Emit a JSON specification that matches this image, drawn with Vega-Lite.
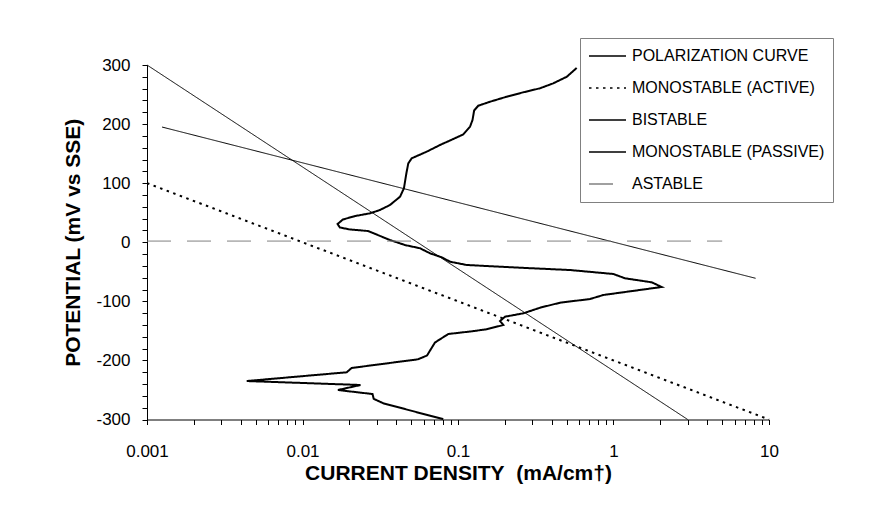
{
  "$schema": "https://vega.github.io/schema/vega-lite/v6.json",
  "width": 622,
  "height": 354.5,
  "autosize": {"type": "none"},
  "padding": {"left": 147, "top": 65, "right": 107, "bottom": 97.5},
  "background": "white",
  "config": {
    "view": {"stroke": null},
    "font": "Liberation Sans",
    "axis": {"grid": false, "domainColor": "#000", "domainWidth": 1, "tickColor": "#000", "tickWidth": 1, "labelColor": "#000", "titleColor": "#000", "labelFont": "Liberation Sans", "titleFont": "Liberation Sans"}
  },
  "data": {
    "values": [
      {"series": "POLARIZATION CURVE", "seq": 1, "i": 0.58, "E": 295},
      {"series": "POLARIZATION CURVE", "seq": 2, "i": 0.5, "E": 280},
      {"series": "POLARIZATION CURVE", "seq": 3, "i": 0.41, "E": 269},
      {"series": "POLARIZATION CURVE", "seq": 4, "i": 0.337, "E": 260.6},
      {"series": "POLARIZATION CURVE", "seq": 5, "i": 0.263, "E": 253.8},
      {"series": "POLARIZATION CURVE", "seq": 6, "i": 0.206, "E": 246.4},
      {"series": "POLARIZATION CURVE", "seq": 7, "i": 0.161, "E": 237.9},
      {"series": "POLARIZATION CURVE", "seq": 8, "i": 0.135, "E": 231.1},
      {"series": "POLARIZATION CURVE", "seq": 9, "i": 0.127, "E": 223},
      {"series": "POLARIZATION CURVE", "seq": 10, "i": 0.124, "E": 207},
      {"series": "POLARIZATION CURVE", "seq": 11, "i": 0.1195, "E": 195.6},
      {"series": "POLARIZATION CURVE", "seq": 12, "i": 0.108, "E": 182.4},
      {"series": "POLARIZATION CURVE", "seq": 13, "i": 0.0933, "E": 174.8},
      {"series": "POLARIZATION CURVE", "seq": 14, "i": 0.0766, "E": 164.6},
      {"series": "POLARIZATION CURVE", "seq": 15, "i": 0.0629, "E": 153.3},
      {"series": "POLARIZATION CURVE", "seq": 16, "i": 0.0504, "E": 142.1},
      {"series": "POLARIZATION CURVE", "seq": 17, "i": 0.0479, "E": 133.6},
      {"series": "POLARIZATION CURVE", "seq": 18, "i": 0.0466, "E": 117.2},
      {"series": "POLARIZATION CURVE", "seq": 19, "i": 0.0449, "E": 91.3},
      {"series": "POLARIZATION CURVE", "seq": 20, "i": 0.0424, "E": 77.1},
      {"series": "POLARIZATION CURVE", "seq": 21, "i": 0.0365, "E": 63},
      {"series": "POLARIZATION CURVE", "seq": 22, "i": 0.0315, "E": 54.6},
      {"series": "POLARIZATION CURVE", "seq": 23, "i": 0.0272, "E": 49},
      {"series": "POLARIZATION CURVE", "seq": 24, "i": 0.0218, "E": 44.4},
      {"series": "POLARIZATION CURVE", "seq": 25, "i": 0.0182, "E": 38.5},
      {"series": "POLARIZATION CURVE", "seq": 26, "i": 0.0168, "E": 30.9},
      {"series": "POLARIZATION CURVE", "seq": 27, "i": 0.0174, "E": 25},
      {"series": "POLARIZATION CURVE", "seq": 28, "i": 0.0202, "E": 21.6},
      {"series": "POLARIZATION CURVE", "seq": 29, "i": 0.0264, "E": 19},
      {"series": "POLARIZATION CURVE", "seq": 30, "i": 0.0365, "E": 3.8},
      {"series": "POLARIZATION CURVE", "seq": 31, "i": 0.0456, "E": -4.7},
      {"series": "POLARIZATION CURVE", "seq": 32, "i": 0.057, "E": -10.2},
      {"series": "POLARIZATION CURVE", "seq": 33, "i": 0.0661, "E": -18.7},
      {"series": "POLARIZATION CURVE", "seq": 34, "i": 0.0786, "E": -25.5},
      {"series": "POLARIZATION CURVE", "seq": 35, "i": 0.0888, "E": -32.9},
      {"series": "POLARIZATION CURVE", "seq": 36, "i": 0.1138, "E": -38.5},
      {"series": "POLARIZATION CURVE", "seq": 37, "i": 0.1606, "E": -40.5},
      {"series": "POLARIZATION CURVE", "seq": 38, "i": 0.25, "E": -43.1},
      {"series": "POLARIZATION CURVE", "seq": 39, "i": 0.525, "E": -47},
      {"series": "POLARIZATION CURVE", "seq": 40, "i": 0.997, "E": -53.7},
      {"series": "POLARIZATION CURVE", "seq": 41, "i": 1.186, "E": -61},
      {"series": "POLARIZATION CURVE", "seq": 42, "i": 1.761, "E": -67.8},
      {"series": "POLARIZATION CURVE", "seq": 43, "i": 2.042, "E": -75.7},
      {"series": "POLARIZATION CURVE", "seq": 44, "i": 0.86, "E": -89.3},
      {"series": "POLARIZATION CURVE", "seq": 45, "i": 0.706, "E": -96.1},
      {"series": "POLARIZATION CURVE", "seq": 46, "i": 0.453, "E": -102.3},
      {"series": "POLARIZATION CURVE", "seq": 47, "i": 0.337, "E": -110.8},
      {"series": "POLARIZATION CURVE", "seq": 48, "i": 0.263, "E": -120.3},
      {"series": "POLARIZATION CURVE", "seq": 49, "i": 0.2006, "E": -126},
      {"series": "POLARIZATION CURVE", "seq": 50, "i": 0.1863, "E": -133.3},
      {"series": "POLARIZATION CURVE", "seq": 51, "i": 0.1956, "E": -140.1},
      {"series": "POLARIZATION CURVE", "seq": 52, "i": 0.153, "E": -147.3},
      {"series": "POLARIZATION CURVE", "seq": 53, "i": 0.1195, "E": -151.1},
      {"series": "POLARIZATION CURVE", "seq": 54, "i": 0.0866, "E": -155.3},
      {"series": "POLARIZATION CURVE", "seq": 55, "i": 0.0711, "E": -169.7},
      {"series": "POLARIZATION CURVE", "seq": 56, "i": 0.0632, "E": -191.7},
      {"series": "POLARIZATION CURVE", "seq": 57, "i": 0.0553, "E": -198.1},
      {"series": "POLARIZATION CURVE", "seq": 58, "i": 0.0207, "E": -212.8},
      {"series": "POLARIZATION CURVE", "seq": 59, "i": 0.01924, "E": -220.1},
      {"series": "POLARIZATION CURVE", "seq": 60, "i": 0.00438, "E": -234.9},
      {"series": "POLARIZATION CURVE", "seq": 61, "i": 0.0236, "E": -241.6},
      {"series": "POLARIZATION CURVE", "seq": 62, "i": 0.0169, "E": -250.1},
      {"series": "POLARIZATION CURVE", "seq": 63, "i": 0.0282, "E": -256.9},
      {"series": "POLARIZATION CURVE", "seq": 64, "i": 0.0287, "E": -265},
      {"series": "POLARIZATION CURVE", "seq": 65, "i": 0.0331, "E": -272.6},
      {"series": "POLARIZATION CURVE", "seq": 66, "i": 0.0804, "E": -299.5},
      {"series": "MONOSTABLE (ACTIVE)", "seq": 1, "i": 0.001, "E": 100},
      {"series": "MONOSTABLE (ACTIVE)", "seq": 2, "i": 10, "E": -300},
      {"series": "BISTABLE", "seq": 1, "i": 0.001, "E": 300},
      {"series": "BISTABLE", "seq": 2, "i": 3, "E": -300},
      {"series": "MONOSTABLE (PASSIVE)", "seq": 1, "i": 0.00125, "E": 195},
      {"series": "MONOSTABLE (PASSIVE)", "seq": 2, "i": 8.2, "E": -61},
      {"series": "ASTABLE", "seq": 1, "i": 0.001, "E": 2},
      {"series": "ASTABLE", "seq": 2, "i": 5, "E": 2}
    ]
  },
  "mark": {"type": "line", "clip": false},
  "encoding": {
    "x": {
      "field": "i",
      "type": "quantitative",
      "scale": {"type": "log", "domain": [0.001, 10], "nice": false},
      "axis": {
        "title": "CURRENT DENSITY\u00a0 (mA/cm†)",
        "titleFontSize": 21,
        "titleFontWeight": "bold",
        "titlePadding": 3,
        "labelFontSize": 17,
        "labelFlush": false,
        "labelOverlap": false,
        "labelPadding": 19,
        "tickSize": 5,
        "values": [0.001, 0.002, 0.003, 0.004, 0.005, 0.006, 0.007, 0.008, 0.009, 0.01, 0.02, 0.03, 0.04, 0.05, 0.06, 0.07, 0.08, 0.09, 0.1, 0.2, 0.3, 0.4, 0.5, 0.6, 0.7, 0.8, 0.9, 1, 2, 3, 4, 5, 6, 7, 8, 9, 10],
        "labelExpr": "indexof([0.001, 0.01, 0.1, 1, 10], datum.value) >= 0 ? '' + datum.value : ''",
        "encode": {
          "ticks": {
            "y": {"value": -5},
            "y2": {"condition": {"test": "indexof([0.001, 0.01, 0.1, 1, 10], datum.value) >= 0", "value": 5}, "value": 0}
          }
        }
      }
    },
    "y": {
      "field": "E",
      "type": "quantitative",
      "scale": {"domain": [-300, 300], "nice": false, "zero": false},
      "axis": {
        "title": "POTENTIAL (mV vs SSE)",
        "titleFontSize": 21,
        "titleFontWeight": "bold",
        "titlePadding": 12,
        "labelFontSize": 17,
        "labelPadding": 12,
        "tickSize": 5,
        "values": [-300, -280, -260, -240, -220, -200, -180, -160, -140, -120, -100, -80, -60, -40, -20, 0, 20, 40, 60, 80, 100, 120, 140, 160, 180, 200, 220, 240, 260, 280, 300],
        "labelExpr": "datum.value % 100 === 0 ? '' + datum.value : ''",
        "encode": {
          "ticks": {
            "x": {"value": 5},
            "x2": {"condition": {"test": "datum.value % 100 === 0", "value": -5}, "value": 0}
          }
        }
      }
    },
    "order": {"field": "seq", "type": "quantitative"},
    "stroke": {
      "field": "series",
      "type": "nominal",
      "scale": {
        "domain": ["POLARIZATION CURVE", "MONOSTABLE (ACTIVE)", "BISTABLE", "MONOSTABLE (PASSIVE)", "ASTABLE"],
        "range": ["#000000", "#000000", "#000000", "#000000", "#808080"]
      },
      "legend": {
        "title": null,
        "orient": "none",
        "legendX": 433,
        "legendY": -27,
        "padding": 8,
        "strokeColor": "#808080",
        "fillColor": "white",
        "symbolType": "stroke",
        "symbolSize": 1369,
        "symbolStrokeWidth": 1.6,
        "clipHeight": 20,
        "rowPadding": 12,
        "labelOffset": 5,
        "labelFontSize": 16,
        "labelFont": "Liberation Sans",
        "labelColor": "#000",
        "labelLimit": 400
      }
    },
    "strokeDash": {
      "field": "series",
      "type": "nominal",
      "scale": {
        "domain": ["POLARIZATION CURVE", "MONOSTABLE (ACTIVE)", "BISTABLE", "MONOSTABLE (PASSIVE)", "ASTABLE"],
        "range": [[1, 0], [2.5, 4.5], [1, 0], [1, 0], [24, 16]]
      }
    },
    "strokeWidth": {
      "condition": {"test": "datum.series === 'POLARIZATION CURVE' || datum.series === 'MONOSTABLE (ACTIVE)'", "value": 2},
      "value": 1
    }
  }
}
